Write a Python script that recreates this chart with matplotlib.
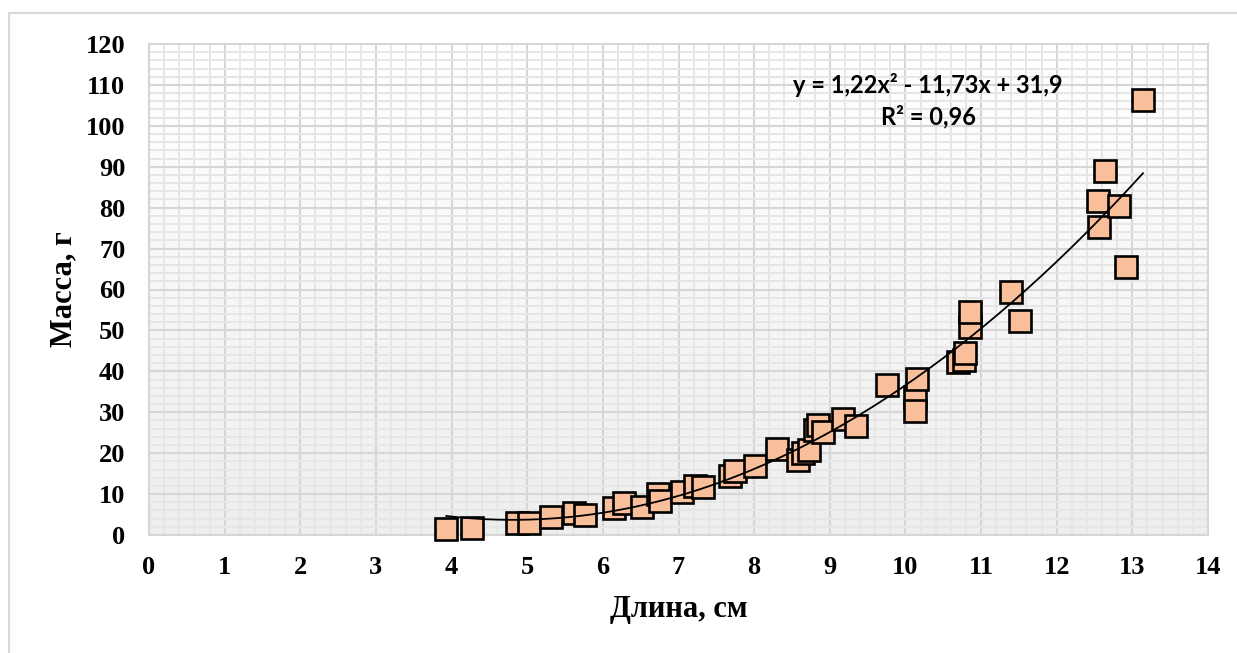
import numpy as np
import matplotlib
matplotlib.use("Agg")
import matplotlib.pyplot as plt
from matplotlib.ticker import MultipleLocator
from matplotlib.lines import Line2D

# Length (cm) and mass (g) of each specimen
length_cm = [3.93, 4.27, 4.87, 5.03, 5.31, 5.62, 5.77, 6.15, 6.28, 6.52,
             6.73, 6.76, 7.05, 7.22, 7.33, 7.68, 7.75, 8.01, 8.30, 8.58,
             8.65, 8.72, 8.81, 8.85, 8.91, 9.18, 9.34, 9.76, 10.12, 10.12,
             10.15, 10.70, 10.77, 10.79, 10.86, 10.86, 11.39, 11.52, 12.56, 12.54,
             12.64, 12.83, 12.91, 13.14]
mass_g = [1.5, 1.7, 3.0, 3.0, 4.3, 5.3, 5.0, 6.5, 7.9, 6.8,
          10.1, 8.3, 10.5, 11.9, 11.7, 14.4, 15.6, 16.9, 21.0, 18.3,
          20.0, 20.8, 25.7, 26.9, 25.2, 28.4, 26.7, 36.7, 33.7, 30.3,
          38.1, 42.2, 42.8, 44.6, 50.9, 54.4, 59.3, 52.3, 75.2, 81.7,
          89.0, 80.4, 65.4, 106.2]

# Polynomial trend (2nd order) and its fit quality
trend_coef = [1.22, -11.73, 31.9]
r_squared = 0.96

fig = plt.figure(figsize=(12.37, 6.53), dpi=100)
ax = fig.add_axes([149 / 1237, 1 - 535 / 653, (1208 - 149) / 1237, (535 - 44) / 653])

# thin frame around the whole chart
fig.add_artist(Line2D([9 / 1237, 9 / 1237], [0, 1 - 13 / 653], transform=fig.transFigure,
                      color="#d9d9d9", lw=1.5))
fig.add_artist(Line2D([9 / 1237, 1], [1 - 13 / 653, 1 - 13 / 653], transform=fig.transFigure,
                      color="#d9d9d9", lw=1.5))

# background: white at top fading to light grey at the bottom
grad = np.linspace(1.0, 0.93, 256).reshape(-1, 1)
ax.imshow(grad, extent=[0, 14, 0, 120], aspect="auto", cmap="gray", vmin=0, vmax=1,
          zorder=0, origin="upper")
ax.set_xlim(0, 14)
ax.set_ylim(0, 120)

ax.xaxis.set_major_locator(MultipleLocator(1))
ax.xaxis.set_minor_locator(MultipleLocator(0.2))
ax.yaxis.set_major_locator(MultipleLocator(10))
ax.yaxis.set_minor_locator(MultipleLocator(2))
ax.grid(which="major", color="#d6d6d6", lw=1.5, zorder=1)
ax.grid(which="minor", color="#e6e6e6", lw=1.4, zorder=1)
ax.set_axisbelow(True)
ax.tick_params(which="both", length=0)
for sp in ax.spines.values():
    sp.set_color("#d6d6d6")
    sp.set_linewidth(1.5)

tick_font = dict(family="Liberation Serif", weight="bold", size=19)
ax.set_xticks(range(0, 15))
ax.set_xticklabels([str(v) for v in range(0, 15)], fontdict=tick_font)
ax.set_yticks(range(0, 121, 10))
ax.set_yticklabels([str(v) for v in range(0, 121, 10)], fontdict=tick_font)
ax.tick_params(axis="x", pad=15)
ax.tick_params(axis="y", pad=17)

ax.set_xlabel("Длина, см", family="Liberation Serif", weight="bold", size=22, labelpad=12)
ax.set_ylabel("Масса, г", family="Liberation Serif", weight="bold", size=22, labelpad=5)

ax.plot(length_cm, mass_g, "s", ms=15.5, mfc="#f9be9a", mec="black", mew=1.9,
        zorder=3, clip_on=False)

xs = np.linspace(min(length_cm), max(length_cm), 200)
ax.plot(xs, np.polyval(trend_coef, xs), color="black", lw=1.3, zorder=4)

a, b, c = trend_coef
eq = f"y = {a:.2f}x² - {abs(b):.2f}x + {c:.1f}".replace(".", ",")
ax.text(10.3, 110.0, eq, ha="center", va="center", family="Lato", weight="bold",
        size=17, zorder=5)
ax.text(10.3, 102.2, f"R² = {r_squared:.2f}".replace(".", ","), ha="center", va="center",
        family="Lato", weight="bold", size=17, zorder=5)

fig.savefig("out.png", dpi=100)
